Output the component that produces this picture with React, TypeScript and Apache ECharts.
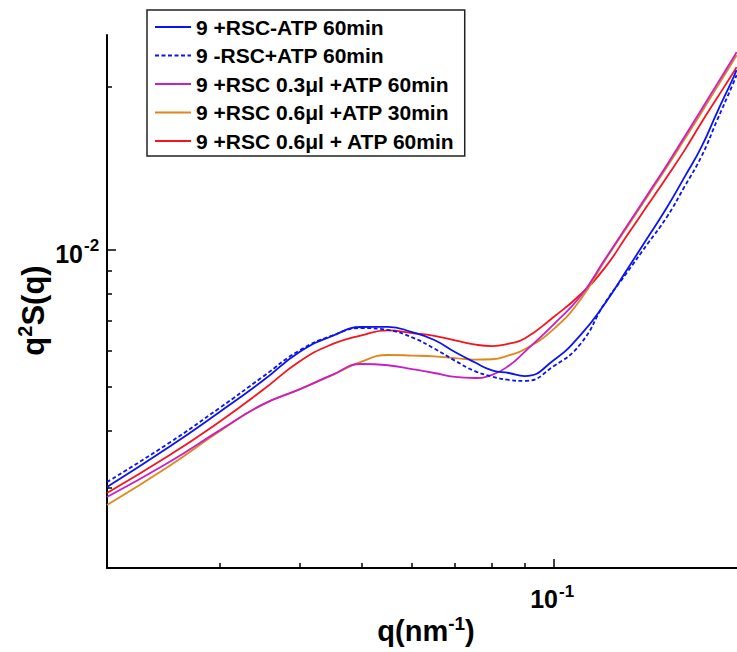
import React, { useEffect, useRef } from "react";
import * as echarts from "echarts";

// q values (nm^-1)
const Q = [0.02, 0.025, 0.03, 0.035, 0.04, 0.045, 0.05, 0.055, 0.06, 0.065, 0.07, 0.075, 0.08, 0.085, 0.09, 0.1, 0.11, 0.12, 0.13, 0.14, 0.15, 0.16, 0.17, 0.18, 0.19, 0.193];

// q^2 S(q) values
const rscMinusAtp60 = [0.003014, 0.00369, 0.004406, 0.005153, 0.005969, 0.006471, 0.006773, 0.006778, 0.006603, 0.006342, 0.005969, 0.005674, 0.005441, 0.005367, 0.005285, 0.00573, 0.006504, 0.007609, 0.009038, 0.010626, 0.012368, 0.014468, 0.016842, 0.020105, 0.023638, 0.024859];
const noRscAtp60 = [0.003091, 0.003765, 0.004496, 0.005258, 0.006014, 0.006484, 0.006738, 0.00667, 0.006425, 0.006072, 0.005714, 0.005427, 0.005272, 0.005182, 0.005156, 0.005561, 0.006215, 0.00763, 0.008915, 0.010309, 0.011793, 0.013785, 0.016042, 0.019307, 0.022977, 0.02424];
const rsc03Atp60 = [0.002865, 0.003415, 0.004014, 0.004573, 0.004941, 0.005314, 0.005617, 0.005582, 0.005473, 0.005367, 0.005262, 0.005233, 0.005314, 0.005568, 0.005974, 0.006876, 0.007913, 0.009516, 0.011291, 0.013228, 0.015346, 0.017742, 0.02035, 0.02319, 0.026239, 0.02724];
const rsc06Atp30 = [0.002752, 0.003348, 0.003994, 0.004573, 0.004941, 0.005309, 0.005686, 0.005879, 0.005862, 0.005838, 0.005788, 0.005741, 0.005753, 0.005868, 0.00605, 0.006711, 0.00778, 0.009463, 0.011212, 0.013114, 0.015187, 0.017513, 0.020045, 0.02284, 0.025843, 0.026829];
const rsc06Atp60 = [0.002923, 0.003534, 0.004195, 0.004916, 0.005689, 0.006209, 0.006494, 0.00666, 0.00657, 0.006474, 0.006332, 0.006203, 0.00615, 0.006228, 0.00639, 0.007136, 0.007986, 0.009126, 0.010751, 0.012524, 0.014441, 0.016561, 0.019055, 0.021612, 0.02434, 0.025241];

const seriesNames = [
  "9 +RSC-ATP 60min",
  "9 -RSC+ATP 60min",
  "9 +RSC 0.3\u03bcl +ATP 60min",
  "9 +RSC 0.6\u03bcl +ATP 30min",
  "9 +RSC 0.6\u03bcl + ATP 60min",
];

// axis ranges and ticks
const X_MIN = 0.02;
const X_MAX = 0.1933;
const Y_MIN = 0.002;
const Y_MAX = 0.0297;
const X_MINOR_TICKS = [0.03, 0.04, 0.05, 0.06, 0.07, 0.08, 0.09];
const X_MAJOR_EXP = [-1];
const Y_MINOR_TICKS = [0.003, 0.004, 0.005, 0.006, 0.007, 0.008, 0.009, 0.0228];
const Y_MAJOR_EXP = [-2];

const FONT = "'Liberation Sans', Arial, Helvetica, sans-serif";

export default function App() {
  const ref = useRef<HTMLDivElement>(null);

  useEffect(() => {
    document.body.style.margin = "0";
    if (!ref.current) return;
    const chart = echarts.init(ref.current, undefined, { renderer: "svg" });

    const lg = Math.log10;
    const toData = (vals: number[]) => Q.map((q, i) => [lg(q), lg(vals[i])]);

    const richTitle = {
      b: { fontSize: 29, fontWeight: "bold", fontFamily: FONT, color: "#000", lineHeight: 34 },
      s: { fontSize: 19, fontWeight: "bold", fontFamily: FONT, color: "#000", verticalAlign: "top", lineHeight: 19 },
    };
    const richTitleY = {
      b: { fontSize: 31, fontWeight: "bold", fontFamily: FONT, color: "#000", lineHeight: 36 },
      s: { fontSize: 20, fontWeight: "bold", fontFamily: FONT, color: "#000", verticalAlign: "top", lineHeight: 20 },
    };

    const colors = ["#0a14f0", "#0a14f0", "#c81ec8", "#e0861a", "#f5141e"];
    const datasets = [rscMinusAtp60, noRscAtp60, rsc03Atp60, rsc06Atp30, rsc06Atp60];

    const series = datasets.map((vals, i) => ({
      name: seriesNames[i],
      type: "line",
      data: toData(vals),
      showSymbol: false,
      symbol: "none",
      smooth: 0.5,
      lineStyle: {
        color: colors[i],
        width: 1.8,
        type: i === 1 ? [4, 2.5] : "solid",
      },
      itemStyle: { color: colors[i] },
      z: 10 - i,
    }));

    const axisLineStyle = { color: "#000", width: 2 };
    const tickLine = { color: "#000", width: 1.5 };

    chart.setOption({
      animation: false,
      textStyle: { fontFamily: FONT, fontWeight: "bold" },
      grid: { left: 107, right: 0, top: 35, bottom: 84, containLabel: false },
      legend: {
        left: 147,
        top: 10,
        orient: "vertical",
        itemWidth: 36,
        itemHeight: 14,
        itemGap: 6.5,
        padding: [6, 10, 4, 7],
        borderColor: "#222",
        borderWidth: 1.5,
        backgroundColor: "#fff",
        itemStyle: { opacity: 0, borderWidth: 0 },
        textStyle: { fontSize: 21, fontWeight: "bold", fontFamily: FONT, color: "#000", lineHeight: 22 },
        data: seriesNames,
      },
      xAxis: [
        {
          type: "value",
          min: lg(X_MIN),
          max: lg(X_MAX),
          axisLine: { show: true, onZero: false, lineStyle: axisLineStyle },
          axisTick: { show: true, inside: true, length: 5, customValues: X_MINOR_TICKS.map(lg), lineStyle: tickLine },
          axisLabel: { show: false },
          splitLine: { show: false },
          name: "{b|q(nm}{s|-1}{b|)}",
          nameLocation: "middle",
          nameGap: 46,
          nameTextStyle: { rich: richTitle, padding: [0, 0, 0, 8] },
        },
        {
          type: "value",
          position: "bottom",
          min: lg(X_MIN),
          max: lg(X_MAX),
          axisLine: { show: false, onZero: false },
          axisTick: { show: true, inside: true, length: 9, customValues: X_MAJOR_EXP, lineStyle: tickLine },
          axisLabel: { show: false },
          splitLine: { show: false },
        },
      ],
      yAxis: [
        {
          type: "value",
          min: lg(Y_MIN),
          max: lg(Y_MAX),
          axisLine: { show: true, onZero: false, lineStyle: axisLineStyle },
          axisTick: { show: true, inside: true, length: 5, customValues: Y_MINOR_TICKS.map(lg), lineStyle: tickLine },
          axisLabel: { show: false },
          splitLine: { show: false },
          name: "{b|q}{s|2}{b|S(q)}",
          nameLocation: "middle",
          nameRotate: 90,
          nameGap: 56,
          nameTextStyle: { rich: richTitleY, padding: [0, 18, 0, 0] },
        },
        {
          type: "value",
          position: "left",
          min: lg(Y_MIN),
          max: lg(Y_MAX),
          axisLine: { show: false, onZero: false },
          axisTick: { show: true, inside: true, length: 9, customValues: Y_MAJOR_EXP, lineStyle: tickLine },
          axisLabel: { show: false },
          splitLine: { show: false },
        },
      ],
      series,
    });

    // decade tick labels (10^n), positioned through the axes' own scales
    const gridBottom = chart.convertToPixel({ yAxisIndex: 0 }, lg(Y_MIN)) as number;
    const gridLeft = chart.convertToPixel({ xAxisIndex: 0 }, lg(X_MIN)) as number;
    const baseFont = "bold 25px 'Liberation Sans', Arial, sans-serif";
    const supFont = "bold 17px 'Liberation Sans', Arial, sans-serif";
    const graphics: any[] = [];
    X_MAJOR_EXP.forEach((e) => {
      const px = chart.convertToPixel({ xAxisIndex: 0 }, e) as number;
      graphics.push({
        type: "text", x: px + 4, y: gridBottom + 31, silent: true,
        style: { font: baseFont, fill: "#000", text: "10", textAlign: "right", textVerticalAlign: "middle" },
      });
      graphics.push({
        type: "text", x: px + 5, y: gridBottom + 23, silent: true,
        style: { font: supFont, fill: "#000", text: String(e), textAlign: "left", textVerticalAlign: "middle" },
      });
    });
    Y_MAJOR_EXP.forEach((e) => {
      const py = chart.convertToPixel({ yAxisIndex: 0 }, e) as number;
      graphics.push({
        type: "text", x: gridLeft - 24, y: py + 4, silent: true,
        style: { font: baseFont, fill: "#000", text: "10", textAlign: "right", textVerticalAlign: "middle" },
      });
      graphics.push({
        type: "text", x: gridLeft - 23, y: py - 5, silent: true,
        style: { font: supFont, fill: "#000", text: String(e), textAlign: "left", textVerticalAlign: "middle" },
      });
    });
    chart.setOption({ graphic: graphics });

    return () => chart.dispose();
  }, []);

  return <div ref={ref} style={{ width: 737, height: 652 }} />;
}
